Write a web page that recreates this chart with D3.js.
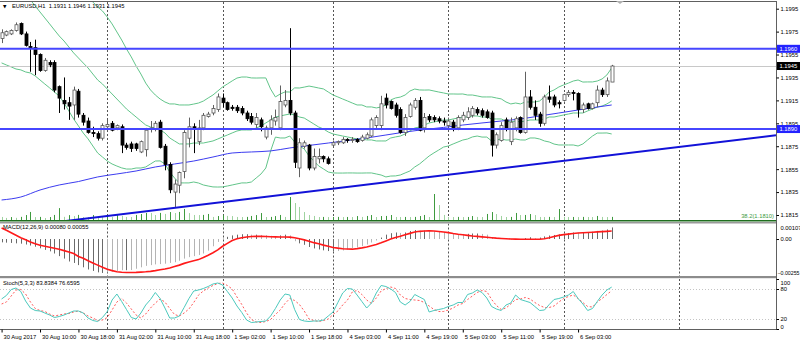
<!DOCTYPE html>
<html><head><meta charset="utf-8">
<script src="https://cdn.jsdelivr.net/npm/d3@7/dist/d3.min.js"></script>
<style>
html,body{margin:0;padding:0;background:#fff;}
svg{display:block;}
</style></head><body>
<svg id="chart" width="800" height="342"></svg>
<script>
// ---------- data ----------
const header = "EURUSD,H1  1.1931 1.1946 1.1931 1.1945";

const openPrices = [
1.1969,1.1972,1.1973,1.1976,1.1982,1.1973,1.1962,1.1961,1.1955,1.1941,
1.1948,1.1948,1.1927,1.1915,1.1913,1.1911,1.1923,1.1902,1.1897,1.1887,
1.1886,1.1882,1.1892,1.1895,1.1891,1.1892,1.1876,1.1877,1.1877,1.1870,
1.1872,1.1890,1.1890,1.1896,1.1875,1.1859,1.1835,1.1841,1.1853,1.1882,
1.1892,1.1879,1.1891,1.1901,1.1904,1.1907,1.1917,1.1913,1.1909,1.1909,
1.1908,1.1904,1.1901,1.1894,1.1898,1.1883,1.1891,1.1897,1.1891,1.1911,
1.1915,1.1904,1.1856,1.1875,1.1876,1.1856,1.1864,1.1866,1.1864,1.1876,
1.1878,1.1878,1.1881,1.1880,1.1881,1.1880,1.1882,1.1884,1.1893,1.1893,
1.1917,1.1914,1.1911,1.1907,1.1887,1.1901,1.1909,1.1915,1.1891,1.1901,
1.1900,1.1899,1.1897,1.1893,1.1896,1.1891,1.1898,1.1900,1.1902,1.1907,
1.1906,1.1905,1.1904,1.1876,1.1880,1.1898,1.1879,1.1891,1.1900,1.1887,
1.1918,1.1909,1.1903,1.1895,1.1918,1.1918,1.1913,1.1915,1.1920,1.1922,
1.1921,1.1907,1.1912,1.1908,1.1913,1.1924,1.1920,1.1931];
const highPrices = [
1.1977,1.1976,1.1977,1.1983,1.1983,1.1975,1.1966,1.1968,1.1956,1.1952,
1.1950,1.1950,1.1928,1.1935,1.1918,1.1927,1.1925,1.1904,1.1900,1.1892,
1.1888,1.1895,1.1898,1.1897,1.1894,1.1894,1.1878,1.1879,1.1878,1.1880,
1.1891,1.1897,1.1897,1.1898,1.1877,1.1861,1.1846,1.1853,1.1889,1.1900,
1.1895,1.1898,1.1904,1.1905,1.1911,1.1921,1.1921,1.1914,1.1911,1.1911,
1.1910,1.1906,1.1904,1.1904,1.1900,1.1893,1.1902,1.1907,1.1928,1.1924,
1.1978,1.1906,1.1882,1.1880,1.1877,1.1873,1.1873,1.1867,1.1866,1.1880,
1.1880,1.1883,1.1882,1.1883,1.1882,1.1885,1.1887,1.1900,1.1902,1.1919,
1.1921,1.1915,1.1913,1.1909,1.1903,1.1913,1.1917,1.1918,1.1904,1.1903,
1.1902,1.1901,1.1900,1.1900,1.1898,1.1902,1.1905,1.1909,1.1910,1.1909,
1.1908,1.1907,1.1906,1.1887,1.1896,1.1900,1.1900,1.1901,1.1901,1.1940,
1.1924,1.1915,1.1905,1.1920,1.1928,1.1920,1.1915,1.1921,1.1924,1.1924,
1.1922,1.1913,1.1913,1.1913,1.1928,1.1926,1.1935,1.1946];
const lowPrices = [
1.1965,1.1971,1.1972,1.1975,1.1972,1.1962,1.1940,1.1937,1.1940,1.1940,
1.1944,1.1922,1.1904,1.1907,1.1898,1.1898,1.1900,1.1893,1.1886,1.1883,
1.1880,1.1880,1.1890,1.1888,1.1889,1.1869,1.1872,1.1870,1.1871,1.1869,
1.1866,1.1887,1.1888,1.1873,1.1854,1.1834,1.1822,1.1834,1.1847,1.1874,
1.1869,1.1876,1.1889,1.1900,1.1902,1.1905,1.1909,1.1906,1.1906,1.1904,
1.1902,1.1897,1.1894,1.1891,1.1888,1.1881,1.1885,1.1893,1.1889,1.1909,
1.1902,1.1856,1.1848,1.1873,1.1854,1.1854,1.1860,1.1861,1.1859,1.1875,
1.1876,1.1877,1.1878,1.1878,1.1878,1.1879,1.1881,1.1883,1.1891,1.1889,
1.1908,1.1907,1.1900,1.1886,1.1884,1.1900,1.1907,1.1888,1.1887,1.1896,
1.1896,1.1895,1.1893,1.1892,1.1888,1.1889,1.1896,1.1898,1.1900,1.1902,
1.1900,1.1899,1.1866,1.1873,1.1879,1.1888,1.1876,1.1888,1.1886,1.1886,
1.1907,1.1898,1.1892,1.1893,1.1913,1.1909,1.1908,1.1914,1.1918,1.1915,
1.1900,1.1904,1.1907,1.1907,1.1909,1.1918,1.1918,1.1931];
const closePrices = [
1.1974,1.1975,1.1976,1.1981,1.1973,1.1963,1.1961,1.1955,1.1941,1.1950,
1.1946,1.1924,1.1917,1.1912,1.1910,1.1924,1.1903,1.1896,1.1887,1.1886,
1.1882,1.1893,1.1894,1.1889,1.1893,1.1876,1.1874,1.1873,1.1873,1.1879,
1.1889,1.1891,1.1895,1.1874,1.1859,1.1837,1.1842,1.1852,1.1887,1.1892,
1.1890,1.1891,1.1902,1.1903,1.1908,1.1918,1.1913,1.1907,1.1908,1.1906,
1.1904,1.1899,1.1896,1.1900,1.1892,1.1891,1.1898,1.1900,1.1914,1.1915,
1.1904,1.1861,1.1878,1.1878,1.1856,1.1866,1.1866,1.1864,1.1860,1.1878,
1.1879,1.1881,1.1880,1.1881,1.1879,1.1883,1.1885,1.1898,1.1900,1.1912,
1.1911,1.1908,1.1902,1.1887,1.1900,1.1911,1.1915,1.1889,1.1900,1.1898,
1.1898,1.1897,1.1896,1.1897,1.1891,1.1900,1.1902,1.1905,1.1908,1.1904,
1.1902,1.1900,1.1876,1.1885,1.1893,1.1890,1.1896,1.1899,1.1887,1.1918,
1.1909,1.1902,1.1895,1.1918,1.1916,1.1911,1.1912,1.1920,1.1922,1.1921,
1.1907,1.1911,1.1908,1.1912,1.1924,1.1920,1.1932,1.1945];

const tickVolumes = [
1210,920,1180,950,1240,1790,2710,1160,1230,880,
1190,1820,3870,1250,1760,1480,1830,1200,1170,1790,
1220,1190,1510,1240,1780,1530,1210,1190,1820,2090,
2410,2380,1790,2430,2120,2680,2390,2720,3610,2380,
1810,1780,1830,2110,1220,1490,1790,1520,1480,1210,
1190,1230,1510,1780,2390,1200,1230,1480,1810,1220,
7200,5390,4210,2690,1790,1510,1190,1220,1180,1210,
1230,1180,1210,1190,1480,1220,1510,1790,1200,1490,
1520,1800,1210,1190,1220,1180,1230,1490,1810,1200,
8100,4790,1820,1210,1190,1230,1180,1210,1490,1220,
1190,2110,2690,2080,1510,1200,1230,2410,1790,1810,
2090,1780,1210,1190,1230,1180,3590,1220,1190,1210,
1180,1230,1200,1190,1510,1220,1190,1230];

// Bollinger Bands (20, 2): middle line and band half-width
const bbMiddle = [
1.20288,1.20244,1.20201,1.20148,1.20105,1.20061,1.20026,1.19974,1.19921,1.19869,
1.19817,1.19764,1.19712,1.19668,1.19616,1.19564,1.19520,1.19476,1.19433,1.19380,
1.19328,1.19293,1.19249,1.19206,1.19162,1.19119,1.19075,1.19040,1.19005,1.18970,
1.18935,1.18918,1.18909,1.18892,1.18866,1.18822,1.18796,1.18770,1.18770,1.18770,
1.18778,1.18778,1.18778,1.18787,1.18796,1.18813,1.18831,1.18848,1.18866,1.18883,
1.18892,1.18892,1.18892,1.18909,1.18927,1.18953,1.18979,1.19005,1.19014,1.19023,
1.19031,1.19023,1.19005,1.18996,1.18970,1.18944,1.18918,1.18901,1.18874,1.18857,
1.18848,1.18839,1.18831,1.18822,1.18813,1.18813,1.18805,1.18805,1.18796,1.18796,
1.18796,1.18822,1.18831,1.18839,1.18857,1.18883,1.18909,1.18918,1.18935,1.18953,
1.18962,1.18970,1.18979,1.18979,1.18988,1.18996,1.19005,1.19005,1.19014,1.19014,
1.19005,1.19005,1.18988,1.18988,1.18988,1.18970,1.18962,1.18970,1.18962,1.18970,
1.18979,1.18979,1.18979,1.18988,1.19005,1.19005,1.19014,1.19023,1.19031,1.19040,
1.19040,1.19040,1.19058,1.19075,1.19092,1.19101,1.19119,1.19145];
const bbWidth = [
0.00811,0.00785,0.00759,0.00724,0.00689,0.00663,0.00637,0.00611,0.00593,0.00576,
0.00558,0.00541,0.00524,0.00541,0.00558,0.00576,0.00593,0.00611,0.00619,0.00628,
0.00637,0.00637,0.00628,0.00611,0.00585,0.00558,0.00524,0.00489,0.00445,0.00410,
0.00366,0.00323,0.00288,0.00270,0.00270,0.00297,0.00323,0.00340,0.00340,0.00340,
0.00340,0.00349,0.00366,0.00384,0.00401,0.00419,0.00436,0.00445,0.00454,0.00462,
0.00462,0.00462,0.00454,0.00436,0.00419,0.00393,0.00270,0.00175,0.00192,0.00201,
0.00192,0.00236,0.00253,0.00270,0.00305,0.00323,0.00340,0.00349,0.00349,0.00340,
0.00332,0.00323,0.00314,0.00305,0.00297,0.00297,0.00288,0.00288,0.00288,0.00297,
0.00314,0.00332,0.00340,0.00340,0.00340,0.00349,0.00340,0.00323,0.00305,0.00288,
0.00270,0.00253,0.00236,0.00227,0.00218,0.00209,0.00201,0.00192,0.00183,0.00175,
0.00175,0.00175,0.00192,0.00183,0.00175,0.00166,0.00157,0.00157,0.00157,0.00166,
0.00157,0.00157,0.00166,0.00192,0.00218,0.00236,0.00253,0.00262,0.00270,0.00279,
0.00288,0.00270,0.00253,0.00236,0.00227,0.00236,0.00253,0.00288];

// slow moving average, sampled every 4 bars
const maBars = [0,4,8,12,16,20,24,28,32,36,40,44,48,52,56,60,64,68,72,76,80,84,88,92,96,100,104,108,112,116,120,124,127];
const maValues = [1.18281,1.18307,1.18368,1.18412,1.18442,1.18482,1.18508,1.18534,1.18569,1.18595,
1.18621,1.18656,1.18691,1.18700,1.18709,1.18735,1.18757,1.18778,1.18800,1.18822,
1.18848,1.18874,1.18896,1.18914,1.18935,1.18953,1.18970,1.18988,1.19014,1.19040,
1.19066,1.19092,1.19110];

const macdMain = [
-0.00023,-0.00025,-0.00027,-0.00030,-0.00032,-0.00038,-0.00045,-0.00053,-0.00064,-0.00075,
-0.00085,-0.00100,-0.00118,-0.00135,-0.00155,-0.00165,-0.00180,-0.00195,-0.00210,-0.00220,
-0.00230,-0.00234,-0.00230,-0.00225,-0.00220,-0.00215,-0.00215,-0.00214,-0.00205,-0.00195,
-0.00185,-0.00180,-0.00175,-0.00173,-0.00170,-0.00165,-0.00160,-0.00150,-0.00135,-0.00125,
-0.00118,-0.00110,-0.00100,-0.00080,-0.00050,-0.00020,0.00005,0.00015,0.00025,0.00030,
0.00033,0.00033,0.00030,0.00030,0.00028,0.00026,0.00022,0.00020,0.00025,0.00030,
0.00025,-0.00015,-0.00030,-0.00040,-0.00055,-0.00065,-0.00072,-0.00078,-0.00083,-0.00085,
-0.00083,-0.00079,-0.00072,-0.00064,-0.00056,-0.00048,-0.00038,-0.00024,-0.00010,0.00010,
0.00030,0.00040,0.00045,0.00042,0.00045,0.00055,0.00062,0.00058,0.00058,0.00056,
0.00054,0.00050,0.00046,0.00043,0.00038,0.00036,0.00035,0.00036,0.00038,0.00038,
0.00035,0.00030,0.00012,0.00005,0.00003,0.00000,-0.00002,-0.00002,-0.00006,0.00006,
0.00012,0.00005,0.00010,0.00018,0.00024,0.00028,0.00032,0.00036,0.00041,0.00045,
0.00044,0.00046,0.00048,0.00050,0.00056,0.00058,0.00066,0.00080];
const macdSignal = [
0.00076,0.00060,0.00043,0.00026,0.00009,-0.00005,-0.00020,-0.00033,-0.00043,-0.00050,
-0.00057,-0.00064,-0.00071,-0.00080,-0.00089,-0.00100,-0.00120,-0.00133,-0.00150,-0.00165,
-0.00180,-0.00195,-0.00208,-0.00218,-0.00226,-0.00229,-0.00231,-0.00231,-0.00230,-0.00228,
-0.00226,-0.00223,-0.00218,-0.00212,-0.00207,-0.00200,-0.00190,-0.00180,-0.00168,-0.00158,
-0.00150,-0.00142,-0.00128,-0.00112,-0.00095,-0.00075,-0.00050,-0.00030,-0.00010,0.00002,
0.00009,0.00014,0.00017,0.00018,0.00018,0.00017,0.00016,0.00015,0.00014,0.00014,
0.00013,0.00009,0.00002,-0.00006,-0.00015,-0.00025,-0.00033,-0.00042,-0.00050,-0.00058,
-0.00063,-0.00067,-0.00069,-0.00070,-0.00066,-0.00061,-0.00055,-0.00046,-0.00038,-0.00026,
-0.00013,0.00000,0.00010,0.00019,0.00029,0.00039,0.00048,0.00053,0.00055,0.00056,
0.00055,0.00052,0.00048,0.00044,0.00038,0.00033,0.00029,0.00025,0.00021,0.00018,
0.00015,0.00012,0.00009,0.00006,0.00004,0.00002,0.00000,-0.00001,-0.00002,-0.00002,
-0.00002,-0.00002,-0.00002,0.00002,0.00009,0.00017,0.00025,0.00030,0.00034,0.00038,
0.00041,0.00043,0.00045,0.00047,0.00049,0.00051,0.00053,0.00055];

const stochMain = [
60,67,79,82,75,56,42,37,36,32,
28,23,25,28,32,36,36,32,22,17,
15,23,35,58,70,55,39,23,20,32,
48,59,73,61,42,22,22,26,43,61,
76,78,81,85,90,92,88,75,62,46,
33,18,13,14,15,16,26,41,58,70,
68,39,19,16,15,16,16,18,26,34,
53,72,81,80,68,55,42,52,72,87,
85,80,73,54,48,55,69,64,59,34,
37,39,41,45,48,53,53,69,72,78,
73,62,45,40,37,48,52,68,59,56,
53,45,37,38,49,59,61,64,68,75,
61,50,37,41,55,68,78,83.8384];
const stochSignal = [
50,54,66,78,79,70,54,41,37,35,
30,26,28,30,31,34,36,32,26,22,
17,18,23,38,54,61,52,40,28,22,
30,42,52,60,54,41,29,26,32,40,
53,68,76,82,87,91,92,87,80,64,
49,32,19,14,13,15,19,29,38,51,
61,57,49,36,20,17,15,17,20,29,
36,48,58,74,77,69,58,51,62,76,
81,84,81,68,61,59,58,57,53,46,
39,35,35,38,42,48,51,59,66,73,
77,75,59,47,39,42,50,59,60,63,
60,53,47,43,43,46,54,61,65,68,
61,53,45,44,54,61,69,76.6595];

const timeTicks = [0,8,16,24,32,40,48,56,64,72,80,88,96,104,112,120];
const timeLabels = ["30 Aug 2017","30 Aug 10:00","30 Aug 18:00","31 Aug 02:00","31 Aug 10:00",
  "31 Aug 18:00","1 Sep 02:00","1 Sep 10:00","1 Sep 18:00","4 Sep 03:00","4 Sep 11:00",
  "4 Sep 19:00","5 Sep 03:00","5 Sep 11:00","5 Sep 19:00","6 Sep 03:00"];
const daySeparators = [22,46,69,93,117,141];
const priceTicks = [1.1995,1.1975,1.1955,1.1935,1.1915,1.1895,1.1875,1.1855,1.1835,1.1815];
const supportResistance = [1.1960, 1.1890];
const trendAnchors = [[0, 1.1803], [160, 1.1884]];
const fiboLevel = {ratio: "38.2", price: 1.1810};
const bidPrice = 1.1945;
const macdScaleTicks = [0.00107, 0, -0.00255];
const stochScaleTicks = [100, 80, 20, 0];
const stochLevels = [80, 20];

// ---------- layout ----------
const svg = d3.select("#chart");
const FONT = "'Liberation Sans', Arial, sans-serif";
const FS = 5.8;
const plotRight = 776;
const mainTop = 2, mainBottom = 221;
const macdTop = 223.5, macdBottom = 276;
const stochTop = 279, stochBottom = 329;

const x = d3.scaleLinear().domain([-0.33, 161.2]).range([0, plotRight]);
const y = d3.scaleLinear().domain([1.1815, 1.1995]).range([215, 8.7]);
const yVol = d3.scaleLinear().domain([0, 9000]).range([mainBottom, mainBottom - 30]);
const yMacd = d3.scaleLinear().domain([-0.00255, 0.00107]).range([macdBottom, macdTop]);
const yStoch = d3.scaleLinear().domain([0, 100]).range([stochBottom, stochTop]);
const cx = i => Math.round(x(i)) + 0.5;

const defs = svg.append("defs");
function clip(id, top, bottom) {
  defs.append("clipPath").attr("id", id).append("rect")
    .attr("x", 0).attr("y", top).attr("width", plotRight).attr("height", bottom - top);
  return svg.append("g").attr("clip-path", `url(#${id})`);
}
const gMain = clip("clipMain", mainTop, mainBottom);
const gMacd = clip("clipMacd", macdTop, macdBottom);
const gStoch = clip("clipStoch", stochTop, stochBottom);

// day separators in every pane
[[gMain, mainTop, mainBottom], [gMacd, macdTop, macdBottom], [gStoch, stochTop, stochBottom]].forEach(([g, t, b]) => {
  g.selectAll(null).data(daySeparators).join("line")
    .attr("x1", d => cx(d)).attr("x2", d => cx(d)).attr("y1", t).attr("y2", b)
    .attr("stroke", "#555").attr("stroke-width", 1).attr("stroke-dasharray", "2,2");
});

// ---------- main pane ----------
const bars = d3.range(closePrices.length);

// tick volume
gMain.selectAll(null).data(bars).join("line")
  .attr("x1", i => cx(i)).attr("x2", i => cx(i))
  .attr("y1", mainBottom).attr("y2", i => yVol(tickVolumes[i]))
  .attr("stroke", i => (i > 0 && tickVolumes[i] > tickVolumes[i - 1]) ? "#3e9a3e" : "#9fd39f")
  .attr("stroke-width", 1);

// Bollinger bands
const bbColor = "#62c58a";
const lineAt = (vals, scale) => d3.line().x((d, i) => x(i)).y(d => scale(d))(vals);
gMain.append("path").attr("d", lineAt(bbMiddle.map((m, i) => m + bbWidth[i]), y))
  .attr("fill", "none").attr("stroke", bbColor).attr("stroke-width", 1);
gMain.append("path").attr("d", lineAt(bbMiddle, y))
  .attr("fill", "none").attr("stroke", bbColor).attr("stroke-width", 1);
gMain.append("path").attr("d", lineAt(bbMiddle.map((m, i) => m - bbWidth[i]), y))
  .attr("fill", "none").attr("stroke", bbColor).attr("stroke-width", 1);

// slow moving average
gMain.append("path")
  .attr("d", d3.line().curve(d3.curveMonotoneX).x((d, k) => x(maBars[k])).y(d => y(d))(maValues))
  .attr("fill", "none").attr("stroke", "#3c3cf0").attr("stroke-width", 1);

// bid line
gMain.append("line").attr("x1", 0).attr("x2", plotRight)
  .attr("y1", Math.round(y(bidPrice)) + 0.5).attr("y2", Math.round(y(bidPrice)) + 0.5)
  .attr("stroke", "#c8c8c8").attr("stroke-width", 1);

// candles
const candle = gMain.selectAll(null).data(bars).join("g");
candle.append("line")
  .attr("x1", i => cx(i)).attr("x2", i => cx(i))
  .attr("y1", i => y(highPrices[i])).attr("y2", i => y(lowPrices[i]))
  .attr("stroke", i => closePrices[i] >= openPrices[i] ? "#606060" : "#000")
  .attr("stroke-width", 1);
candle.append("rect")
  .attr("x", i => cx(i) - 1.5)
  .attr("width", 3)
  .attr("y", i => y(Math.max(openPrices[i], closePrices[i])))
  .attr("height", i => Math.max(1, Math.abs(y(openPrices[i]) - y(closePrices[i]))))
  .attr("fill", i => closePrices[i] >= openPrices[i] ? "#fff" : "#000")
  .attr("stroke", i => closePrices[i] >= openPrices[i] ? "#555" : "#000")
  .attr("stroke-width", 0.8);

// horizontal levels
gMain.selectAll(null).data(supportResistance).join("line")
  .attr("x1", 0).attr("x2", plotRight).attr("y1", d => y(d)).attr("y2", d => y(d))
  .attr("stroke", "#4646ff").attr("stroke-width", 2);

// trend line
const tSlope = (trendAnchors[1][1] - trendAnchors[0][1]) / (trendAnchors[1][0] - trendAnchors[0][0]);
const tEnd = x.invert(plotRight);
gMain.append("line")
  .attr("x1", x(trendAnchors[0][0])).attr("y1", y(trendAnchors[0][1]))
  .attr("x2", plotRight).attr("y2", y(trendAnchors[0][1] + tSlope * (tEnd - trendAnchors[0][0])))
  .attr("stroke", "#1212d8").attr("stroke-width", 2);

// fibonacci level
svg.append("line").attr("x1", 0).attr("x2", plotRight)
  .attr("y1", y(fiboLevel.price)).attr("y2", y(fiboLevel.price))
  .attr("stroke", "#1e6e1e").attr("stroke-width", 1.5);
svg.append("text").attr("x", plotRight - 2).attr("y", y(fiboLevel.price) - 2.5)
  .attr("text-anchor", "end").attr("font-family", FONT).attr("font-size", FS)
  .attr("fill", "#3e9a3e").text(`${fiboLevel.ratio}(${fiboLevel.price.toFixed(4)})`);

// header
svg.append("text").attr("x", 3).attr("y", 8).attr("font-family", "DejaVu Sans")
  .attr("font-size", 4.5).attr("fill", "#000").text("\u25BC");
svg.append("text").attr("x", 12).attr("y", 8.3).attr("font-family", FONT)
  .attr("font-size", FS).attr("fill", "#000").attr("xml:space", "preserve").text(header);

// ---------- MACD pane ----------
gMacd.selectAll(null).data(bars).join("line")
  .attr("x1", i => cx(i)).attr("x2", i => cx(i))
  .attr("y1", yMacd(0)).attr("y2", i => yMacd(macdMain[i]))
  .attr("stroke", i => (i > 0 && Math.abs(macdMain[i]) < Math.abs(macdMain[i - 1])) ? "#b4b4b4" : "#6a6a6a")
  .attr("stroke-width", 1);
gMacd.append("path").attr("d", lineAt(macdSignal, yMacd))
  .attr("fill", "none").attr("stroke", "#ff1a1a").attr("stroke-width", 1.6);
svg.append("text").attr("x", 3).attr("y", 229.3).attr("font-family", FONT).attr("font-size", FS)
  .attr("fill", "#000")
  .text(`MACD(12,26,9) ${macdMain[macdMain.length - 1].toFixed(5)} ${macdSignal[macdSignal.length - 1].toFixed(5)}`);

// ---------- Stochastic pane ----------
gStoch.selectAll(null).data(stochLevels).join("line")
  .attr("x1", 0).attr("x2", plotRight)
  .attr("y1", d => Math.round(yStoch(d)) + 0.5).attr("y2", d => Math.round(yStoch(d)) + 0.5)
  .attr("stroke", "#c4c4c4").attr("stroke-dasharray", "1,2");
gStoch.append("path").attr("d", lineAt(stochSignal, yStoch))
  .attr("fill", "none").attr("stroke", "#ff5a5a").attr("stroke-width", 1).attr("stroke-dasharray", "2,2");
gStoch.append("path").attr("d", lineAt(stochMain, yStoch))
  .attr("fill", "none").attr("stroke", "#4cc9bd").attr("stroke-width", 1);
svg.append("text").attr("x", 3).attr("y", 285).attr("font-family", FONT).attr("font-size", FS)
  .attr("fill", "#000")
  .text(`Stoch(5,3,3) ${stochMain[stochMain.length - 1].toFixed(4)} ${stochSignal[stochSignal.length - 1].toFixed(4)}`);

// ---------- frame & separators ----------
svg.append("rect").attr("x", 0).attr("y", 222).attr("width", plotRight + 1).attr("height", 1.5).attr("fill", "#9a9a9a");
svg.append("rect").attr("x", 0).attr("y", 276).attr("width", plotRight + 1).attr("height", 2.2).attr("fill", "#8c8c8c");
svg.append("line").attr("x1", 0).attr("x2", plotRight).attr("y1", 1.5).attr("y2", 1.5).attr("stroke", "#606060");
svg.append("line").attr("x1", plotRight + 0.5).attr("x2", plotRight + 0.5).attr("y1", 1).attr("y2", stochBottom + 0.5).attr("stroke", "#606060");
svg.append("line").attr("x1", 0).attr("x2", plotRight + 1).attr("y1", stochBottom + 0.5).attr("y2", stochBottom + 0.5).attr("stroke", "#606060");
svg.append("path").attr("d", "M616,1 L624,1 L620,4 Z").attr("fill", "#b0b0b0");

// ---------- axes ----------
function styleAxis(g) {
  g.attr("font-family", FONT).attr("font-size", FS);
  g.select(".domain").remove();
  g.selectAll("line").attr("stroke", "#000");
  g.selectAll("text").attr("fill", "#000");
}
svg.append("g").attr("transform", `translate(${plotRight + 0.5},0)`)
  .call(d3.axisRight(y).tickValues(priceTicks).tickSize(2.5).tickPadding(1.5).tickFormat(d3.format(".4f")))
  .call(styleAxis);

svg.append("g").attr("transform", `translate(${plotRight + 0.5},0)`)
  .call(d3.axisRight(yMacd).tickValues(macdScaleTicks).tickSize(2.5).tickPadding(1.5)
    .tickFormat(d => d === 0 ? "0.00" : d3.format(".5f")(d)))
  .call(styleAxis)
  .call(g => g.selectAll(".tick").filter(d => d !== 0).select("line").remove())
  .call(g => g.selectAll(".tick text").attr("dy", d => d > 0 ? "1.0em" : (d < 0 ? "-0.25em" : "0.32em")))
  .call(g => g.selectAll(".tick text").filter(d => d < 0)
    .attr("x", 1).attr("font-size", 5.2).attr("textLength", 22).attr("lengthAdjust", "spacingAndGlyphs"));

svg.append("g").attr("transform", `translate(${plotRight + 0.5},0)`)
  .call(d3.axisRight(yStoch).tickValues(stochScaleTicks).tickSize(2.5).tickPadding(1.5))
  .call(styleAxis)
  .call(g => g.selectAll(".tick text").attr("dy", d => d === 100 ? "0.9em" : (d === 0 ? "-0.15em" : "0.32em")));

svg.append("g").attr("transform", `translate(0,${stochBottom + 0.5})`)
  .call(d3.axisBottom(x).tickValues(timeTicks).tickSize(3).tickPadding(2).tickFormat((d, k) => timeLabels[k]))
  .call(styleAxis)
  .call(g => g.selectAll(".tick text").attr("text-anchor", "start").attr("x", 1.5));

// price tags on the scale
const tags = [
  {p: supportResistance[0], bg: "#2323ff", fg: "#fff"},
  {p: bidPrice, bg: "#000", fg: "#fff"},
  {p: supportResistance[1], bg: "#2323ff", fg: "#fff"}
];
const tag = svg.selectAll(null).data(tags).join("g")
  .attr("transform", d => `translate(${plotRight + 1},${y(d.p)})`);
tag.append("rect").attr("x", 0).attr("y", -4).attr("width", 23).attr("height", 8).attr("fill", d => d.bg);
tag.append("text").attr("x", 2.5).attr("y", 2.1).attr("font-family", FONT).attr("font-size", FS)
  .attr("fill", d => d.fg).text(d => d.p.toFixed(4));
</script>
</body></html>
